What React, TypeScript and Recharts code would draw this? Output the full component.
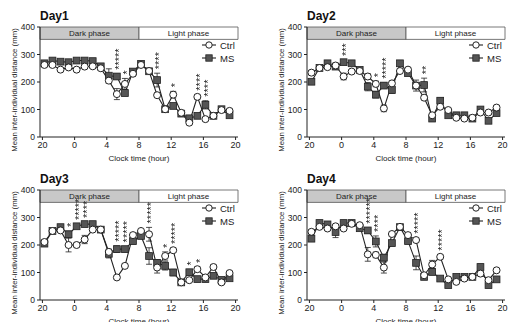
import { type ReactElement } from 'react';

import { ComposedChart, ErrorBar, Line, ReferenceArea, Scatter, XAxis, YAxis } from 'recharts';

// clock hours in order of recording (20:00 -> 19:00)
const HOURS = [20, 21, 22, 23, 0, 1, 2, 3, 4, 5, 6, 7, 8, 9, 10, 11, 12, 13, 14, 15, 16, 17, 18, 19];
const X_TICKS = [0, 4, 8, 12, 16, 20, 24];
const X_TICK_LABELS = ['20', '0', '4', '8', '12', '16', '20'];
const Y_TICKS = [0, 100, 200, 300, 400];

const DAY1_CTRL = [262, 262, 245, 253, 245, 256, 257, 250, 205, 156, 193, 230, 262, 240, 152, 101, 154, 88, 52, 146, 65, 77, 98, 95];
const DAY1_MS = [268, 278, 274, 272, 278, 278, 276, 257, 223, 220, 160, 238, 266, 239, 207, 101, 113, 85, 68, 77, 117, 77, 101, 79];
const DAY1_CTRL_ERR = [6, 6, 6, 6, 6, 6, 6, 8, 10, 20, 20, 10, 6, 8, 8, 6, 12, 6, 6, 8, 6, 6, 6, 6];
const DAY1_MS_ERR = [6, 6, 6, 6, 6, 6, 6, 8, 25, 10, 10, 8, 6, 8, 25, 6, 8, 6, 6, 6, 15, 6, 6, 6];
const DAY1_STARS = [0, 0, 0, 0, 0, 0, 0, 0, 0, 5, 1, 0, 0, 0, 4, 0, 1, 0, 0, 4, 4, 0, 0, 0];

const DAY2_CTRL = [234, 251, 254, 260, 220, 238, 240, 220, 193, 104, 195, 240, 245, 187, 143, 79, 110, 98, 70, 67, 70, 89, 89, 107];
const DAY2_MS = [201, 251, 268, 256, 272, 268, 244, 183, 154, 187, 171, 268, 232, 187, 189, 67, 132, 79, 79, 79, 67, 100, 59, 87];
const DAY2_CTRL_ERR = [8, 6, 6, 6, 12, 6, 6, 10, 10, 12, 8, 8, 8, 8, 8, 6, 8, 6, 6, 6, 6, 6, 6, 8];
const DAY2_MS_ERR = [8, 6, 6, 6, 8, 6, 8, 15, 12, 10, 12, 6, 8, 20, 25, 6, 10, 8, 6, 6, 6, 8, 6, 8];
const DAY2_STARS = [0, 0, 0, 0, 3, 0, 0, 0, 1, 5, 0, 0, 0, 0, 2, 0, 0, 0, 0, 0, 0, 0, 0, 0];

const DAY3_CTRL = [211, 251, 253, 200, 200, 220, 256, 256, 175, 82, 124, 236, 251, 239, 118, 160, 181, 64, 72, 112, 82, 120, 64, 98];
const DAY3_MS = [205, 251, 265, 239, 268, 276, 276, 256, 168, 185, 185, 214, 233, 160, 135, 124, 100, 64, 101, 76, 76, 88, 73, 79];
const DAY3_CTRL_ERR = [8, 6, 6, 25, 8, 15, 6, 6, 10, 6, 8, 8, 6, 25, 20, 15, 8, 6, 6, 8, 6, 8, 6, 6];
const DAY3_MS_ERR = [8, 6, 6, 12, 8, 8, 6, 8, 15, 12, 10, 10, 10, 30, 12, 15, 12, 6, 10, 6, 6, 8, 6, 6];
const DAY3_STARS = [0, 0, 0, 1, 5, 4, 0, 0, 0, 5, 5, 0, 0, 5, 0, 1, 5, 0, 1, 1, 0, 0, 0, 0];

const DAY4_CTRL = [248, 266, 260, 268, 260, 277, 272, 166, 164, 118, 240, 266, 236, 218, 90, 129, 157, 75, 66, 78, 84, 96, 72, 108];
const DAY4_MS = [223, 280, 275, 247, 280, 280, 261, 253, 213, 154, 207, 265, 214, 135, 84, 102, 78, 54, 84, 84, 84, 120, 54, 75];
const DAY4_CTRL_ERR = [8, 6, 6, 6, 6, 6, 6, 25, 10, 20, 8, 6, 8, 8, 8, 15, 8, 6, 6, 6, 6, 8, 6, 6];
const DAY4_MS_ERR = [8, 6, 6, 20, 6, 6, 6, 10, 20, 12, 10, 6, 8, 25, 8, 10, 6, 6, 6, 6, 6, 10, 6, 6];
const DAY4_STARS = [0, 0, 0, 0, 0, 0, 0, 6, 4, 0, 0, 0, 0, 5, 0, 0, 5, 0, 0, 0, 0, 0, 0, 0];

const FONT = '"Liberation Sans", Arial, sans-serif';
const INK = '#222';

interface PanelProps {
  title: string;
  left: number;
  top: number;
  ctrl: number[];
  ms: number[];
  ctrlErr: number[];
  msErr: number[];
  stars: number[];
}

function MsSquare(props: any): ReactElement {
  const { cx, cy, index } = props;
  return <rect key={`ms-${index}`} x={cx - 3.4} y={cy - 3.4} width={6.8} height={6.8} fill="#555" stroke={INK} strokeWidth={0.8} />;
}

// significance marks: one run of asterisks, written upwards from just above the point
function StarStack(props: any): ReactElement {
  const { cx, cy, payload } = props;
  const ax = cx + 6.2;
  const ay = cy - 4;
  return (
    <text
      x={ax}
      y={ay}
      transform={`rotate(-90 ${ax} ${ay})`}
      fontSize={11}
      fill={INK}
      fontFamily={FONT}
      style={{ filter: 'grayscale(1)' }}
    >
      {'*'.repeat(payload.n)}
    </text>
  );
}

function Panel({ title, left, top, ctrl, ms, ctrlErr, msErr, stars }: PanelProps): ReactElement {
  const rows = HOURS.map((hour, i) => ({
    x: i + 0.25,
    hour,
    ctrl: ctrl[i],
    ms: ms[i],
    ctrlErr: ctrlErr[i],
    msErr: msErr[i],
  }));
  const starRows = rows
    .map((r, i) => ({ x: r.x, y: Math.max(r.ctrl + r.ctrlErr, r.ms + r.msErr), n: stars[i] }))
    .filter((r) => r.n > 0);

  return (
    <div style={{ position: 'absolute', left, top, width: 243, height: 165 }}>
      <ComposedChart width={243} height={165} data={rows} margin={{ top: 27, right: 5, bottom: 0, left: 0 }} style={{ overflow: 'visible' }}>
        <XAxis
          type="number"
          dataKey="x"
          domain={[-0.3, 24.3]}
          ticks={X_TICKS}
          tickFormatter={(v: number) => X_TICK_LABELS[X_TICKS.indexOf(v)]}
          height={28}
          tickSize={3}
          stroke={INK}
          tick={{ fill: INK, fontSize: 9, fontFamily: FONT }}
          label={(p: any) => (
            <text
              x={p.viewBox.x + p.viewBox.width / 2}
              y={p.viewBox.y + 24}
              textAnchor="middle"
              fontSize={8}
              fill={INK}
              fontFamily={FONT}
            >
              Clock time (hour)
            </text>
          )}
        />
        <YAxis
          type="number"
          domain={[0, 400]}
          ticks={Y_TICKS}
          width={40}
          tickSize={3}
          stroke={INK}
          tick={{ fill: INK, fontSize: 8.5, fontFamily: FONT }}
          label={(p: any) => {
            const cx = p.viewBox.x + 14;
            const cy = p.viewBox.y + p.viewBox.height / 2 + 8;
            return (
              <text
                x={cx}
                y={cy}
                transform={`rotate(-90 ${cx} ${cy})`}
                textAnchor="middle"
                dominantBaseline="central"
                fontSize={7.8}
                fill={INK}
                fontFamily={FONT}
              >
                Mean inter-individual distance (mm)
              </text>
            );
          }}
        />
        <ReferenceArea
          x1={-0.3}
          x2={12}
          y1={355}
          y2={400}
          fill="#c8c8c8"
          fillOpacity={1}
          stroke="#555"
          strokeWidth={0.8}
          label={{ value: 'Dark phase', position: 'center', fontSize: 8, fill: INK, fontFamily: FONT }}
        />
        <ReferenceArea
          x1={12}
          x2={24.3}
          y1={355}
          y2={400}
          fill="#fff"
          fillOpacity={1}
          stroke="#555"
          strokeWidth={0.8}
          label={{ value: 'Light phase', position: 'center', fontSize: 8, fill: INK, fontFamily: FONT }}
        />
        <Line dataKey="ms" stroke={INK} strokeWidth={1.1} dot={MsSquare} activeDot={false} isAnimationActive={false}>
          <ErrorBar dataKey="msErr" direction="y" width={3} stroke={INK} strokeWidth={0.8} />
        </Line>
        <Line
          dataKey="ctrl"
          stroke={INK}
          strokeWidth={1.1}
          dot={{ r: 3.5, fill: '#fff', stroke: INK, strokeWidth: 1 }}
          activeDot={false}
          isAnimationActive={false}
        >
          <ErrorBar dataKey="ctrlErr" direction="y" width={3} stroke={INK} strokeWidth={0.8} />
        </Line>
        <Scatter data={starRows} dataKey="y" shape={StarStack} isAnimationActive={false} />
      </ComposedChart>
      <div
        style={{
          position: 'absolute',
          left: 40,
          top: 10,
          fontFamily: FONT,
          fontSize: 12,
          fontWeight: 700,
          lineHeight: '12px',
          color: '#111',
        }}
      >
        {title}
      </div>
      <svg style={{ position: 'absolute', left: 198, top: 38 }} width={45} height={28}>
        <line x1={4} x2={18} y1={7} y2={7} stroke={INK} strokeWidth={1.1} />
        <circle cx={11} cy={7} r={3.2} fill="#fff" stroke={INK} strokeWidth={1} />
        <text x={22} y={10.5} fontSize={9.5} fill={INK} fontFamily={FONT}>
          Ctrl
        </text>
        <line x1={4} x2={18} y1={20} y2={20} stroke={INK} strokeWidth={1.1} />
        <rect x={7.8} y={16.8} width={6.4} height={6.4} fill="#555" stroke={INK} strokeWidth={0.8} />
        <text x={22} y={23.5} fontSize={9.5} fill={INK} fontFamily={FONT}>
          MS
        </text>
      </svg>
    </div>
  );
}

export default function App(): ReactElement {
  return (
    <div style={{ position: 'absolute', left: 0, top: 0, width: 510, height: 322, background: '#fff', overflow: 'hidden' }}>
      <Panel title="Day1" left={0} top={0} ctrl={DAY1_CTRL} ms={DAY1_MS} ctrlErr={DAY1_CTRL_ERR} msErr={DAY1_MS_ERR} stars={DAY1_STARS} />
      <Panel title="Day2" left={267} top={0} ctrl={DAY2_CTRL} ms={DAY2_MS} ctrlErr={DAY2_CTRL_ERR} msErr={DAY2_MS_ERR} stars={DAY2_STARS} />
      <Panel title="Day3" left={0} top={163} ctrl={DAY3_CTRL} ms={DAY3_MS} ctrlErr={DAY3_CTRL_ERR} msErr={DAY3_MS_ERR} stars={DAY3_STARS} />
      <Panel title="Day4" left={267} top={163} ctrl={DAY4_CTRL} ms={DAY4_MS} ctrlErr={DAY4_CTRL_ERR} msErr={DAY4_MS_ERR} stars={DAY4_STARS} />
    </div>
  );
}
